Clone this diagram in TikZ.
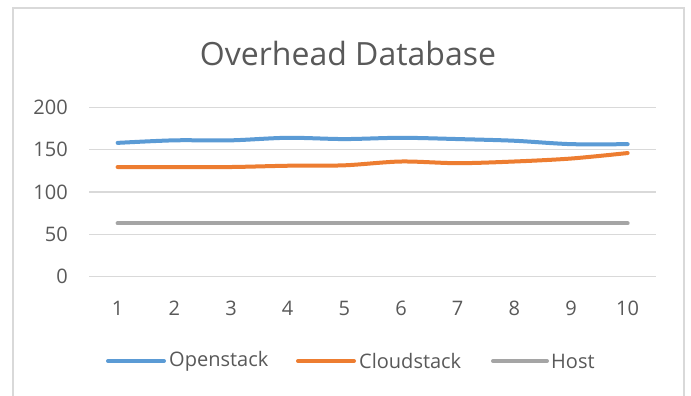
\documentclass[tikz,border=0pt]{standalone}
\usepackage{fontspec}
\setmainfont{Open Sans}
\definecolor{txt}{HTML}{595959}
\definecolor{grid}{HTML}{D9D9D9}
\definecolor{frame}{HTML}{D9D9D9}
\definecolor{sblue}{HTML}{5B9BD5}
\definecolor{sorange}{HTML}{ED7D31}
\definecolor{sgray}{HTML}{A5A5A5}
\tikzset{
  gridline/.style={draw=grid, line width=1.1pt},
  series/.style={line width=4pt, line cap=round, line join=round},
  ticklabel/.style={text=txt, font=\fontsize{20}{24}\selectfont, inner sep=0pt},
  legtext/.style={text=txt, font=\fontsize{20}{24}\selectfont, inner sep=0pt, anchor=west},
}
\begin{document}
\begin{tikzpicture}[x=1pt,y=-1pt]
\useasboundingbox (0,0) rectangle (691,396);
\fill[white] (0,0) rectangle (691,396);
% frame
\draw[frame, line width=1.8pt] (13,400) -- (13,8) -- (684,8) -- (684,400);
% title
\node[text=txt, font=\fontsize{32}{38}\selectfont, inner sep=0pt] (title) at (348,54) {Overhead Database};
% gridlines and y labels
\foreach \v in {0,50,100,150,200}{
  \draw[gridline] (89.3,{276.7-\v*0.847}) -- (656,{276.7-\v*0.847});
  \node[ticklabel, anchor=east] (y\v) at (68,{276.7-\v*0.847}) {\v};
}
% x labels
\foreach \i in {1,...,10}{
  \node[ticklabel] (x\i) at ({89.3+(\i-0.5)*56.67},308) {\i};
}
% series
\draw[series, sblue] plot[smooth, tension=0.5] coordinates {
 ({89.3+0.5*56.67},{276.7-158*0.847})
 ({89.3+1.5*56.67},{276.7-161*0.847})
 ({89.3+2.5*56.67},{276.7-161*0.847})
 ({89.3+3.5*56.67},{276.7-164*0.847})
 ({89.3+4.5*56.67},{276.7-162.5*0.847})
 ({89.3+5.5*56.67},{276.7-164*0.847})
 ({89.3+6.5*56.67},{276.7-162.5*0.847})
 ({89.3+7.5*56.67},{276.7-160.5*0.847})
 ({89.3+8.5*56.67},{276.7-156.5*0.847})
 ({89.3+9.5*56.67},{276.7-156.5*0.847})
};
\draw[series, sorange] plot[smooth, tension=0.5] coordinates {
 ({89.3+0.5*56.67},{276.7-129.5*0.847})
 ({89.3+1.5*56.67},{276.7-129.5*0.847})
 ({89.3+2.5*56.67},{276.7-129.5*0.847})
 ({89.3+3.5*56.67},{276.7-131*0.847})
 ({89.3+4.5*56.67},{276.7-131.5*0.847})
 ({89.3+5.5*56.67},{276.7-136*0.847})
 ({89.3+6.5*56.67},{276.7-134*0.847})
 ({89.3+7.5*56.67},{276.7-136*0.847})
 ({89.3+8.5*56.67},{276.7-139.5*0.847})
 ({89.3+9.5*56.67},{276.7-146*0.847})
};
\draw[series, sgray] ({89.3+0.5*56.67},{276.7-63*0.847}) -- ({89.3+9.5*56.67},{276.7-63*0.847});
% legend
\coordinate (l1a) at (108,361); \coordinate (l1b) at (164,361);
\draw[series, sblue] (l1a) -- (l1b);
\node[legtext] (leg1) at (169,361) {Openstack};
\coordinate (l2a) at (298,361); \coordinate (l2b) at (354,361);
\draw[series, sorange] (l2a) -- (l2b);
\node[legtext] (leg2) at (359,361) {Cloudstack};
\coordinate (l3a) at (493,361); \coordinate (l3b) at (547,361);
\draw[series, sgray] (l3a) -- (l3b);
\node[legtext] (leg3) at (551,361) {Host};
\end{tikzpicture}
\end{document}
